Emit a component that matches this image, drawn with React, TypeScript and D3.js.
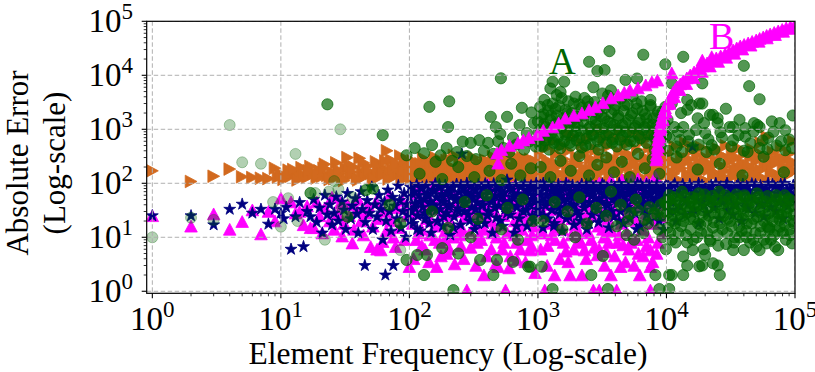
import React from "react";
import * as d3 from "d3";

// ---------- DATA ----------
const xTickValues = [1, 10, 100, 1000, 10000, 100000];
const yTickValues = [1, 10, 100, 1000, 10000, 100000];
const tickExponents = ["0", "1", "2", "3", "4", "5"];
const xAxisLabel = "Element Frequency (Log-scale)";
const yAxisLabelLines = ["Absolute Error", "(Log-scale)"];
const annotationA = "A";
const annotationB = "B";

// orange right-pointing triangles
const orangeLow: [number, number][] = [
  [1,170],[2,108],[3,135],[4,183],[5,132],[6,128],[7,124],[8,122],[9,190],[9.5,130],
  [10,148],[11,128],[11.5,175],[12,135],[13,160],[14,125],[14.5,195],[15,140],[16,128],[17,205],[18,150],[19,125],[20,170],[21,135],[22,225],[23,140],[25,160],[26,122],[27,240],[29,150],[30,130],[32,185],[33,300],[35,140],[37,200],[39,125],[41,290],[43,160],[45,135],[47,210],[50,150],[52,125],[55,250],[58,170],[60,135],[63,190],[67,400],[70,150],[72,270],[75,130],[78,200],[82,160],[85,320],[88,140],[92,220],[96,130],
  [10.5,118],[12.5,180],[13.5,115],[16.5,170],[19.5,145],[21.5,190],[24,118],[28,175],[31,112],[34,215],[36,160],[40,115],[44,240],[48,170],[53,118],[57,200],[62,150],[65,260],[69,120],[74,180],[80,230],[87,115],[90,175],[94,270],[99,150]
];
const orangeMid: [number, number][] = [
  [100,180],[103,125],[106,260],[110,150],[113,115],[117,210],[120,170],[124,130],[128,290],[132,190],[136,118],[140,240],[145,155],[150,205],[155,125],[160,300],[165,170],[170,140],[176,230],[182,115],[188,190],[195,265],[200,145],[207,210],[214,125],[222,330],[230,175],[238,140],[246,250],[255,120],[264,195],[273,280],[283,160],[293,225],[304,130],[315,300],[326,185],[338,145],[350,240],[362,115],[375,205],[389,270],[403,160],[417,130],[432,230],[448,310],[464,175],[480,135],[497,255],[515,195],[533,120],[552,285],[572,165],[592,215],[613,140],[635,330],[658,190],[681,250],[706,130],[731,205],[757,300],[784,170],[812,235],[841,140],[871,280],[902,190],[934,120],[967,250],
  [101,140],[108,200],[115,125],[122,230],[130,160],[138,110],[147,185],[157,260],[168,120],[180,210],[192,150],[203,280],[218,165],[233,115],[250,195],[268,140],[287,235],[308,170],[330,120],[355,210],[380,150],[408,255],[440,120],[470,205],[505,145],[540,230],[580,115],[620,180],[665,135],[715,270],[765,150],[820,200],[880,115],[945,165]
];
const orangeHigh: [number, number][] = [
  [1000,160],[1040,320],[1080,210],[1120,130],[1150,700],[1160,450],[1200,260],[1250,180],[1300,600],[1340,115],[1390,350],[1440,220],[1490,150],[1550,500],[1600,280],[1660,130],[1700,900],[1720,400],[1780,200],[1850,750],[1910,160],[1980,310],[2050,240],[2130,120],[2200,550],[2280,190],[2360,380],[2400,650],[2450,145],[2540,280],[2630,850],[2720,210],[2820,420],[2920,125],[3000,1000],[3030,330],[3140,170],[3250,650],[3370,240],[3490,480],[3600,800],[3610,135],[3740,300],[3880,200],[4020,700],[4160,160],[4310,380],[4400,950],[4470,250],[4630,120],[4800,520],[4970,210],[5000,600],[5150,340],[5330,150],[5520,900],[5720,260],[5930,420],[6140,185],[6200,820],[6360,130],[6590,600],[6830,300],[7000,700],[7070,220],[7330,460],[7590,160],[7860,350],[8000,950],[8140,250],[8430,680],[8740,190],[9050,420],[9200,650],[9380,140],[9710,300],
  [1020,125],[1100,175],[1180,240],[1270,145],[1360,195],[1460,110],[1570,250],[1690,170],[1810,125],[1940,210],[2090,150],[2240,340],[2400,120],[2580,180],[2770,260],[2970,150],[3190,110],[3420,200],[3670,140],[3940,260],[4230,180],[4540,130],[4870,300],[5230,160],[5610,220],[6020,115],[6460,190],[6930,270],[7440,140],[7990,200],[8580,120],[9210,240],[9890,160],
  [10000,180],[10400,350],[10800,130],[11200,260],[11600,480],[12000,200],[12500,115],[13000,320],[13500,230],[14000,560],[14500,150],[15000,280],[15600,400],[16200,190],[16800,120],[17400,330],[18000,250],[18700,460],[19400,170],[20100,300],[20900,105],[21700,220],[22500,380],[23300,160],[24200,270],[25100,430],[26000,140],[27000,330],[28000,200],[29000,500],[30100,120],[31200,260],[32400,380],[33600,175],[34900,300],[36200,450],[37500,140],[38900,240],[40300,350],[41800,200],[43400,110],[45000,300],[46700,420],[48400,180],[50200,260],[52100,130],[54000,560],[56000,330],[58100,200],[60300,730],[62500,280],[64800,150],[67200,380],[69700,230],[72300,120],[75000,310],[77800,450],[80700,190],[83700,270],[86800,140],[90000,350],[93400,220],[96800,600],[99000,170],
  [10600,240],[11400,150],[12200,110],[13100,190],[14100,270],[15100,130],[16200,210],[17400,160],[18700,120],[20000,250],[21500,180],[23100,140],[24800,230],[26600,115],[28600,170],[30700,280],[33000,135],[35400,200],[38000,160],[40800,120],[43800,210],[47000,150],[50500,320],[54200,175],[58200,120],[62500,220],[67100,160],[72000,260],[77300,130],[83000,200],[89100,150],[95700,250]
];

// magenta upward triangles, scattered
const magentaLow: [number, number][] = [
  [1,25],[2,16],[3,27],[4,14],[5,19.5],[6,32],[7,11.5],[8,30],[9,20],[10,53],[12,45],[13,28],[14,30],[15,17],[16,38],[17,15],
  [18,15],[19,45],[20,25],[21,12],[22,35],[24,20],[25,55],[26,14],[28,28],[29,43],[30,10.5],[31,18],[33,40],[34,25],[36,7.8],[37,14],[39,32],[40,50],[42,20],[44,11],[46,28],[48,38],[50,6.7],[52,16],[55,45],[56,6],[58,22],[60,5.8],[62,8.3],[64,30],[66,13],[70,60],[72,20],[75,10],[78,6.7],[80,35],[84,15],[88,48],[92,9],[96,25]
];
const magentaMid: [number, number][] = [
  [100,2.85],[103,40],[106,18],[110,65],[113,9],[117,28],[120,80],[124,14],[128,45],[132,6],[136,22],[140,55],[145,11],[150,33],[155,90],[160,16],[163,2.85],[166,48],[172,8],[178,25],[184,62],[190,13],[195,5],[200,38],[207,20],[214,75],[220,10],[228,30],[236,52],[244,15],[252,7],[260,42],[270,24],[280,1.05],[285,85],[295,12],[305,35],[315,58],[325,18],[336,8],[347,46],[358,26],[370,70],[380,2],[382,14],[395,36],[408,95],[420,20],[434,6],[448,55],[462,30],[477,10],[490,2.85],[493,78],[509,17],[525,42],[542,25],[560,1.05],[560,60],[578,12],[597,2.7],[617,34],[637,85],[658,20],[680,8],[690,3.8],[702,50],[725,28],[749,14],[773,65],[798,38],[824,9],[851,22],[870,5.8],[879,90],[908,45],[938,16],[969,30],
  [105,30],[118,12],[135,38],[148,20],[170,55],[188,9],[210,28],[232,45],[258,14],[290,60],[318,25],[350,11],[385,48],[420,32],[460,16],[500,52],[545,8],[590,30],[640,45],[700,17],[760,25],[830,48],[900,11],[960,35],
  [108,4],[125,7],[142,3.5],[158,9],[176,4.5],[205,6],[225,3.2],[248,11],[265,4],[300,6.5],[330,3],[362,9],[400,4.5],[440,12],[470,3.2],[530,6],[610,4.5],[660,11],[730,6],[800,3.5],[890,7],[950,2.2]
];
const magentaHigh: [number, number][] = [
  [1000,55],[1030,12],[1060,25],[1100,12],[1130,1.05],[1150,40],[1190,7],[1230,70],[1270,18],[1310,32],[1350,2],[1360,9],[1400,48],[1450,22],[1500,88],[1550,14],[1600,35],[1650,5.5],[1700,62],[1700,95],[1760,26],[1780,2],[1820,11],[1880,45],[1950,17],[2020,80],[2090,30],[2130,87],[2160,8],[2200,2],[2240,55],[2300,5.8],[2320,20],[2400,38],[2480,12],[2570,70],[2580,66],[2650,92],[2660,25],[2700,1.05],[2750,6.5],[2850,48],[2900,4.7],[2950,16],[3000,1.05],[3000,100],[3050,32],[3160,95],[3200,66],[3270,10],[3390,60],[3400,5.4],[3500,22],[3620,40],[3700,2],[3700,115],[3750,13],[3880,75],[4010,28],[4100,1.05],[4150,8],[4300,50],[4400,2.85],[4400,75],[4450,18],[4500,115],[4600,7.2],[4610,35],[4770,65],[4940,12],[5110,26],[5290,44],[5400,115],[5470,9],[5660,80],[5800,66],[5860,20],[6000,120],[6060,5],[6200,2],[6250,87],[6270,38],[6400,49],[6490,14],[6720,58],[6950,28],[7000,105],[7200,10],[7500,2.85],[7500,5.8],[7500,1.05],[7700,45],[8000,18],[8200,133],[8300,30],[8600,8],[8900,65],[9200,24],[9500,12],[9800,40],
  [1080,30],[1250,45],[1420,15],[1600,60],[1850,22],[2100,9],[2450,28],[2800,50],[3200,14],[3600,30],[4100,55],[4700,22],[5300,8],[5900,36],[6600,18],[7300,60],[8100,40],[8800,24],[9400,55],
  [1050,6],[1180,3],[1280,11],[1480,4],[1580,8],[1720,3.5],[1900,6],[2050,13],[2380,4],[2600,9],[3000,6],[3300,3],[3550,8],[3950,4.5],[4300,11],[4800,3.5],[5100,6],[5600,3],[5900,9],[6600,4.5],[7000,7],[7800,3.5],[8400,5]
];

// magenta triangles along the diagonal and the "B" arc
const magentaDiag: [number, number][] = [
  [480,360],[490,235],[520,420],[600,500],[700,560],[770,630],[850,700],[990,800],[1100,950],[1300,1100],[1450,1300],[1630,1600],[1900,1800],[2200,2000],[2500,2300],[2800,2600],[3200,3100],[3700,3800],[4200,4300],[4700,4800],[5200,5300],[6000,5800],[6900,6600],[7700,7500],[8500,8100],[11000,11000],[19000,19000],[22500,22000]
];
const magentaArc: [number, number][] = [
  [8320,270],[8390,334],[8470,414],[8540,512],[8620,634],[8730,784],[8860,970],[8970,1150],[9100,1365],[9260,1620],[9430,1920],[9600,2180],[9770,2480],[10100,2940],[10400,3340],[10700,3800],[11000,4320],[11300,4910],[11700,5460],[12100,6070],[12800,6900],[13500,7840],[14400,8910],[15300,10100],[16400,11500],[17700,13100],[19100,14900],[20700,16900],[22500,18800],[24400,20900],[26400,22800],[28600,24800],[30800,27000],[33000,29400],[35200,32000],[37500,34900],[40200,37200],[43200,39600],[46400,42300],[49900,45000],[53100,48000],[56600,51200],[60200,54600],[64100,58200],[68900,62000],[74000,66100],[79500,70500],[85400,75200],[91800,78500],[98600,81000],
  [8450,300],[8600,480],[8800,720],[9050,1050],[9400,1500],[9900,2100],[10600,3000],[11500,4000],[12700,5400],[14300,7000],[16300,9000],[18900,11800],[21800,14800],[25300,18000],[29200,21500],[33800,25500],[39000,30500],[45200,36000],[52300,42500],[60500,49000],[70000,56500],[81000,65000],[93500,73500]
];

// navy stars
const navyLow: [number, number][] = [
  [1,25],[2,25],[3,17],[4,33],[5,41],[6,28],[7,33],[8,17.5],[9,33],[10,28],[10.5,22],[11,36],[12,6],[13,24],[14,44],[15,6.7],
  [16,30],[17,24],[18,50],[19,19],[20,35],[21,12],[22,60],[23,26],[24,40],[25,17],[26,28],[27,56],[28,20],[30,45],[31,32],[32,14],[33,65],[35,22],[36,38],[38,52],[39,27],[40,12],[42,70],[43,33],[45,3],[45.5,19],[47,48],[49,28],[51,85],[52,14],[54,40],[56,24],[58,60],[60,33],[62,9],[64,45],[65,2],[66,20],[68,75],[70,30],[72,13],[74,55],[75,3],[77,38],[80,22],[82,90],[84,48],[86,15],[89,30],[91,65],[94,10],[96,40],[98,26]
];
const navyMid: [number, number][] = [
  [100,55],[102,85],[104,30],[107,18],[109,70],[111,42],[114,95],[116,25],[119,60],[121,13],[124,80],[127,36],[130,50],[133,22],[136,90],[139,65],[142,30],[145,45],[148,12],[152,75],[155,38],[159,98],[162,55],[166,20],[170,85],[174,33],[178,62],[182,16],[186,45],[190,92],[195,28],[199,70],[204,40],[208,11],[213,58],[218,85],[223,24],[228,48],[233,96],[238,34],[244,68],[250,17],[256,350],[256,52],[262,80],[268,30],[274,42],[280,100],[287,62],[294,20],[300,88],[307,36],[314,55],[321,14],[329,75],[336,44],[344,95],[352,26],[360,63],[369,38],[377,82],[386,18],[395,52],[404,90],[413,30],[423,70],[433,45],[443,12],[453,98],[464,58],[475,23],[486,78],[497,38],[508,88],[520,55],[532,16],[545,68],[557,33],[575,115],[584,92],[597,46],[611,26],[626,75],[640,55],[655,12],[670,95],[686,36],[702,64],[718,22],[735,85],[752,48],[770,30],[788,98],[806,60],[825,16],[844,76],[864,40],[884,90],[905,25],[926,60],[948,45],[970,100],[993,33],
  [101,20],[105,65],[110,35],[115,14],[120,45],[126,85],[131,28],[137,60],[143,18],[150,40],[156,70],[163,32],[171,95],[178,48],[186,24],[194,62],[203,36],[212,80],[221,15],[231,52],[241,30],[252,92],[263,44],[275,66],[287,26],[300,55],[313,78],[327,33],[341,18],[356,60],[372,40],[389,98],[406,25],[424,72],[443,50],[463,35],[483,88],[505,20],[527,62],[550,45],[575,28],[600,80],[627,38],[655,60],[684,16],[714,44],[746,90],[779,55],[813,32],[849,70],[887,50],[926,20],[967,80]
];
const navyHigh: [number, number][] = [
  [1000,70],[1020,28],[1045,92],[1070,48],[1095,15],[1100,100],[1120,80],[1145,38],[1170,60],[1200,22],[1225,98],[1255,52],[1285,32],[1315,85],[1345,18],[1375,66],[1400,75],[1410,42],[1440,95],[1475,27],[1510,58],[1545,13],[1580,80],[1620,36],[1655,100],[1695,50],[1735,24],[1775,72],[1820,40],[1860,92],[1900,55],[1905,17],[1950,62],[1995,30],[2040,85],[2090,48],[2140,20],[2190,96],[2240,56],[2290,35],[2350,78],[2400,14],[2460,64],[2500,88],[2520,44],[2575,98],[2640,26],[2700,70],[2760,52],[2830,88],[2890,33],[2960,19],[3030,75],[3100,45],[3170,97],[3250,60],[3300,65],[3320,28],[3400,82],[3480,38],[3560,15],[3650,68],[3730,92],[3820,50],[3910,24],[4000,85],[4100,42],[4190,62],[4290,99],[4300,45],[4390,30],[4500,74],[4600,18],[4710,55],[4820,90],[4940,36],[5050,66],[5170,22],[5290,94],[5300,70],[5420,48],[5550,78],[5680,28],[5810,58],[5950,100],[6090,40],[6230,16],[6300,95],[6380,84],[6530,52],[6680,32],[6840,70],[7000,96],[7170,44],[7340,20],[7510,62],[7600,80],[7690,88],[7870,36],[8060,72],[8250,50],[8440,98],[8640,26],[8700,45],[8850,60],[9060,82],[9270,40],[9490,14],[9720,66],[9950,92],
  [1010,42],[1060,62],[1110,25],[1160,88],[1210,45],[1270,70],[1330,16],[1390,55],[1450,35],[1520,75],[1590,48],[1660,22],[1740,90],[1820,60],[1900,38],[1990,82],[2080,26],[2180,66],[2280,44],[2380,95],[2490,18],[2610,58],[2730,36],[2850,76],[2990,50],[3120,24],[3270,90],[3420,42],[3570,68],[3740,30],[3910,56],[4090,80],[4280,20],[4470,64],[4680,45],[4890,96],[5120,33],[5350,72],[5600,52],[5860,14],[6130,86],[6410,42],[6710,62],[7020,26],[7340,92],[7680,54],[8030,36],[8400,76],[8790,20],[9190,58],[9620,84],
  [10000,55],[10300,88],[10600,30],[10900,70],[11200,45],[11600,98],[11900,20],[12300,62],[12700,38],[13100,85],[13500,52],[13900,26],[14300,75],[14800,42],[15200,95],[15700,60],[16000,475],[16200,33],[16700,80],[17200,48],[17800,18],[18300,66],[18900,92],[19500,38],[20100,58],[20700,28],[21400,85],[22000,50],[22700,72],[23400,35],[24200,99],[24900,55],[25700,22],[26500,78],[27300,44],[28200,64],[29100,90],[30000,32],[30900,52],[31900,82],[32900,26],[33900,68],[35000,40],[36100,96],[37200,58],[38400,20],[39600,76],[40800,46],[42100,88],[43400,34],[44800,62],[46200,98],[47600,50],[49100,28],[50700,72],[52300,42],[53900,90],[55600,60],[57300,24],[59100,80],[61000,48],[62900,66],[64900,36],[66900,95],[69000,54],[71200,30],[73400,84],[75700,44],[78100,70],[80500,22],[83100,100],[85700,58],[88300,38],[91100,78],[94000,50],[96900,88],[99000,64],
  [10100,75],[10700,45],[11300,90],[12000,32],[12700,68],[13400,95],[14200,50],[15000,80],[15900,28],[16800,64],[17800,100],[18800,44],[19900,76],[21100,60],[22300,92],[23600,40],[25000,68],[26500,86],[28000,48],[29600,100],[31400,70],[33200,40],[35100,88],[37200,62],[39300,96],[41600,36],[44000,72],[46600,56],[49300,94],[52200,80],[55200,40],[58400,68],[61800,100],[65400,52],[69200,86],[73200,64],[77500,96],[82000,44],[86700,74],[91800,58],[97100,92]
];

// faint green circles (small frequencies)
const greenFaint: [number, number][] = [
  [1,10],[2,23],[3,21],[4,1200],[5,245],[7,230],[8.7,45],[10,15.7],[11.4,53],[13,350],[13.5,20],[18.5,66],[22,9],[23.6,70],[26,110],[28,78],[29,1000],[30,35],[36,55],[85,5.8]
];

// green circles ("A")
const greenUpper: [number, number][] = [
  [17,66],[23,2900],[33,24],[46,75],[52,80],[62,780],[70,40],[85,18],
  [95,330],[110,450],[130,360],[143,2600],[150,510],[160,250],[175,330],[195,450],[200,1100],[204,3300],[215,260],[235,380],[260,590],[280,320],[300,560],[330,280],[350,630],[380,400],[410,560],[430,1700],[450,350],[470,1100],[490,600],[510,820],[515,8800],[540,450],[575,1700],[600,380],[640,700],[680,520],[720,1200],[750,2500],[780,420],[820,850],[860,600],[890,2050],[930,1300],[960,480],
  [1000,1400],[1020,650],[1040,2600],[1060,900],[1080,480],[1100,1900],[1120,3500],[1150,1100],[1170,700],[1200,2200],[1220,420],[1250,5700],[1250,1500],[1280,850],[1300,7600],[1300,3000],[1330,560],[1360,1250],[1400,4300],[1400,1800],[1430,720],[1460,2700],[1490,440],[1500,4900],[1520,1050],[1560,1600],[1600,7600],[1600,600],[1640,2300],[1680,880],[1720,3300],[1760,1350],[1800,500],[1840,2000],[1880,760],[1920,1150],[1960,4000],[2000,620],[2050,1700],[2100,2900],[2150,950],[2200,460],[2250,1400],[2300,3800],[2350,2100],[2400,680],[2450,1000],[2500,17800],[2500,2600],[2560,530],[2620,1550],[2700,6000],[2700,800],[2760,3200],[2830,1200],[2900,12000],[2900,2000],[2960,420],[3030,700],[3100,1750],[3170,4600],[3250,1050],[3300,12500],[3330,2500],[3400,560],[3480,1400],[3560,860],[3600,28000],[3650,3300],[3700,5300],[3740,2000],[3830,650],[3920,1200],[4020,2800],[4120,480],[4220,1600],[4320,950],[4430,3700],[4540,740],[4650,2200],[4800,8200],[4800,1300],[4900,520],[5000,2900],[5150,880],[5300,1800],[5450,4100],[5600,600],[5750,1150],[5900,8700],[5900,2400],[6050,780],[6200,1500],[6400,3300],[6600,24000],[6600,980],[6800,1900],[7000,560],[7200,1250],[7500,3500],[7500,2600],[7700,800],[7900,1600],[8100,420],[8300,1100],[8600,2100],[8900,700],[9200,1400],[9500,900],[9800,16000],[9800,2600],
  [1010,900],[1040,500],[1070,1700],[1110,1250],[1140,620],[1190,2800],[1230,980],[1270,1800],[1320,650],[1370,2400],[1420,1100],[1470,520],[1530,3800],[1580,1300],[1640,800],[1700,2000],[1770,560],[1830,1400],[1900,3000],[1970,900],[2040,1200],[2110,700],[2190,2500],[2270,1800],[2350,500],[2440,3300],[2530,1100],[2620,800],[2720,2200],[2820,1500],[2930,600],[3040,1000],[3150,2700],[3270,1600],[3390,800],[3510,4200],[3640,1300],[3780,560],[3920,2300],[4060,1000],[4210,1800],[4370,640],[4530,1200],[4700,2800],[4870,900],[5050,1500],[5240,600],[5430,2000],[5630,1050],[5840,3000],[6050,1300],[6280,680],[6510,2200],[6750,1100],[7000,1600],[7260,800],[7530,2800],[7810,1200],[8100,700],[8400,1800],[8700,1000],[9000,500],[9300,2100],[9650,1250],[9950,750],
  [10200,1500],[10500,700],[11000,7100],[11000,3000],[11500,1100],[12000,480],[12800,630],[13000,2000],[13500,22000],[13500,1100],[14500,2300],[14500,3500],[15000,800],[15600,2800],[16000,450],[17000,970],[17500,1600],[18000,3000],[19000,7100],[19000,3000],[20000,850],[20500,380],[21800,1850],[22500,510],[23000,1850],[25000,1300],[25000,1600],[27000,700],[29000,2400],[31000,1100],[33000,630],[33000,1100],[37000,1500],[40000,15000],[40000,400],[41000,730],[41000,1050],[44000,6300],[45000,550],[48000,1300],[51000,1200],[53000,3600],[53000,1100],[53000,450],[62000,700],[68000,900],[72000,500],[76000,1300],[84000,960],[84000,410],[90000,650],[96000,1800],
  [10300,400],[12300,900],[13200,380],[14800,600],[17800,520],[19600,1300],[21200,650],[23600,420],[26300,880],[32000,480],[36300,780],[42800,380],[47500,900],[56000,620],[61000,430],[66000,1400],[78000,600],[95000,450]
];
const greenBand: [number, number][] = [
  [120,150],[180,120],[240,200],[320,130],[420,170],[520,115],[620,230],[730,140],[880,190],
  [1050,200],[1250,130],[1500,260],[1800,170],[2100,320],[2500,140],[2900,220],[3400,300],[3900,160],[4500,250],[5200,130],[6000,350],[6800,190],[7800,280],[8800,150],
  [12000,300],[17500,180],[26000,230],[39000,140],[57000,310],[82000,160]
];
const greenLower: [number, number][] = [
  [10000,40],[10200,15],[10500,60],[10800,25],[11000,9],[11300,35],[11700,18],[12000,50],[12400,12],[12800,28],[13200,70],[13500,4.4],[13600,20],[14000,42],[14500,8],[14900,30],[15400,14],[15800,55],[16000,5.8],[16300,22],[16800,38],[17300,10],[17800,65],[18300,17],[18900,32],[19500,6],[20000,4.7],[20100,48],[20700,12],[21400,25],[22000,8.5],[22700,58],[23400,19],[24200,36],[24900,11],[25700,70],[26500,27],[27300,14],[28200,45],[29100,7.5],[30000,22],[31000,52],[32000,16],[33000,5.8],[33000,34],[34000,10],[35000,62],[36100,24],[37000,10],[37200,40],[38400,13],[39600,28],[40000,5.8],[40800,55],[42000,10],[42100,18],[43400,36],[44800,8],[46200,48],[47600,22],[49100,12],[50000,6.7],[50700,65],[52300,30],[53000,5.8],[53900,16],[55600,44],[57300,9],[59100,26],[60000,7.7],[61000,58],[62900,14],[63000,15],[64900,38],[66900,20],[69000,11],[70000,6.7],[71200,50],[73400,28],[74000,5.8],[76000,15.7],[76000,21],[78100,42],[80500,12],[83100,60],[85000,9],[85700,24],[88300,35],[91100,14],[94000,48],[95000,7.7],[96900,20],[98000,18],
  [10100,28],[10400,48],[10700,12],[11100,20],[11500,55],[11800,8],[12200,32],[12600,45],[13000,16],[13300,25],[13800,58],[14200,11],[14700,38],[15200,22],[15600,46],[16100,9],[16600,30],[17100,52],[17600,18],[18100,40],[18600,12],[19200,26],[19800,62],[20400,20],[21000,36],[21700,9],[22300,46],[23000,15],[23700,28],[24500,50],[25300,7],[26000,18],[26900,40],[27800,25],[28700,60],[29600,12],[30500,34],[31500,20],[32500,46],[33500,8],[34600,28],[35700,52],[36800,16],[38000,38],[39200,22],[40500,60],[41800,13],[43100,30],[44500,48],[45900,18],[47400,9],[48900,40],[50500,24],[52100,55],[53800,12],[55500,34],[57300,20],[59100,46],[61000,16],[62900,28],[64900,9],[67000,42],[69100,24],[71300,60],[73600,13],[76000,36],[78400,26],[80900,48],[83500,17],[86200,30],[89000,52],[91800,11],[94800,38],[97800,26],
  [10500,2],[10500,1.1],[11000,2],[13500,2],[14500,3],[18000,2.9],[19000,3],[23000,3.3],[25000,3],[26000,2],
  [1070,2.85],[1100,20],[1300,1.1],[1350,45],[1550,14],[1700,30],[1950,10],[2100,55],[2400,18],[2600,2],[2850,35],[3200,4.5],[3400,25],[3500,1.1],[3700,70],[4100,16],[4400,40],[4900,11],[5000,20],[5200,28],[5600,9],[5800,50],[6000,32],[6600,12],[6700,22],[7200,18],[7400,36],[8000,28],[8200,2],[8500,26],[8700,14],[8800,1.1],[9000,40],[9300,10],[9600,25],[9700,45],[9900,6],
  [95,3.8],[115,4.7],[130,2],[137,4.7],[150,30],[180,6.3],[200,15],[220,1.05],[240,5],[270,45],[300,10],[340,22],[355,3.8],[400,60],[450,2],[480,3.8],[520,14],[580,35],[640,3.5],[700,9],[760,50],[840,2.85],[870,2.85],[920,20]
];

const orangeTri = [...orangeLow, ...orangeMid, ...orangeHigh];
const magentaTri = [...magentaLow, ...magentaMid, ...magentaHigh];
const navyStar = [...navyLow, ...navyMid, ...navyHigh];
const greenCirc = [...greenUpper, ...greenBand, ...greenLower];

// ---------- CHART ----------
const W = 815;
const H = 372;
const M = { left: 146.7, right: 795, top: 21.3, bottom: 293.3 };
const FONT = "'Liberation Serif', 'Times New Roman', serif";

export default function App() {
  const x = d3.scaleLog().domain([0.904, 1e5]).range([M.left, M.right]);
  const y = d3.scaleLog().domain([0.917, 1e5]).range([M.bottom, M.top]);

  const triUp = "M0,-6L6.3,5.8L-6.3,5.8Z";
  const triRight = "M6,0L-5.8,-6.3L-5.8,6.3Z";
  const starPath = d3.symbol(d3.symbolStar, 44)() as string;

  const xMinor = x.ticks().filter((t) => !xTickValues.includes(t) && x(t) > M.left + 0.5 && x(t) < M.right - 0.5);
  const yMinor = y.ticks().filter((t) => !yTickValues.includes(t) && y(t) < M.bottom - 0.5 && y(t) > M.top + 0.5);

  const pts = (data: [number, number][], path: string, color: string, key: string) =>
    data.map((d, i) => (
      <path key={key + i} d={path} transform={`translate(${x(d[0])},${y(d[1])})`} fill={color} stroke={color} strokeWidth={0.8} />
    ));

  return (
    <svg width={W} height={H} style={{ position: "absolute", left: 0, top: 0, display: "block", background: "#fff" }}>
      <defs>
        <clipPath id="plotclip">
          <rect x={M.left} y={M.top} width={M.right - M.left} height={M.bottom - M.top} />
        </clipPath>
      </defs>
      <rect x={0} y={0} width={W} height={H} fill="#fff" />
      <g clipPath="url(#plotclip)">
        {pts(orangeTri, triRight, "#D2691E", "o")}
        {pts(magentaTri, triUp, "#FF00FF", "m")}
        {pts(navyStar, starPath, "#000080", "n")}
        {greenFaint.map((d, i) => (
          <circle key={"gf" + i} cx={x(d[0])} cy={y(d[1])} r={5.5} fill="#006400" fillOpacity={0.3} stroke="#006400" strokeOpacity={0.3} strokeWidth={1} />
        ))}
        {greenCirc.map((d, i) => (
          <circle key={"g" + i} cx={x(d[0])} cy={y(d[1])} r={5.6} fill="#006400" fillOpacity={0.67} stroke="#006400" strokeOpacity={0.67} strokeWidth={1} />
        ))}
        {pts(magentaDiag, triUp, "#FF00FF", "md")}
        {pts(magentaArc, triUp, "#FF00FF", "ma")}
        {xTickValues.map((t) => (
          <line key={"gx" + t} x1={x(t)} x2={x(t)} y1={M.top} y2={M.bottom} stroke="#b0b0b0" strokeWidth={1} strokeDasharray="4.5,2.5" />
        ))}
        {yTickValues.map((t) => (
          <line key={"gy" + t} x1={M.left} x2={M.right} y1={y(t)} y2={y(t)} stroke="#b0b0b0" strokeWidth={1} strokeDasharray="4.5,2.5" />
        ))}
      </g>
      <text x={549} y={74} fill="#006400" fontFamily={FONT} fontSize={37}>{annotationA}</text>
      <text x={709} y={49} fill="#FF00FF" fontFamily={FONT} fontSize={38}>{annotationB}</text>
      <rect x={M.left} y={M.top} width={M.right - M.left} height={M.bottom - M.top} fill="none" stroke="#000" strokeWidth={1.2} />
      {xTickValues.map((t) => (
        <line key={"xt" + t} x1={x(t)} x2={x(t)} y1={M.bottom} y2={M.bottom + 5} stroke="#000" strokeWidth={1.1} />
      ))}
      {xMinor.map((t) => (
        <line key={"xm" + t} x1={x(t)} x2={x(t)} y1={M.bottom} y2={M.bottom + 3} stroke="#000" strokeWidth={0.8} />
      ))}
      {yTickValues.map((t) => (
        <line key={"yt" + t} x1={M.left - 5} x2={M.left} y1={y(t)} y2={y(t)} stroke="#000" strokeWidth={1.1} />
      ))}
      {yMinor.map((t) => (
        <line key={"ym" + t} x1={M.left - 3} x2={M.left} y1={y(t)} y2={y(t)} stroke="#000" strokeWidth={0.8} />
      ))}
      {xTickValues.map((t, i) => (
        <text key={"xl" + t} x={x(t)} y={330} textAnchor="middle" fontFamily={FONT} fontSize={33} fill="#000">
          10<tspan dy={-13} fontSize={23}>{tickExponents[i]}</tspan>
        </text>
      ))}
      {yTickValues.map((t, i) => (
        <text key={"yl" + t} x={133} y={y(t) + 11} textAnchor="end" fontFamily={FONT} fontSize={33} fill="#000">
          10<tspan dy={-13} fontSize={23}>{tickExponents[i]}</tspan>
        </text>
      ))}
      <text x={448} y={364} textAnchor="middle" fontFamily={FONT} fontSize={31.5} fill="#000">{xAxisLabel}</text>
      <text transform="rotate(-90)" textAnchor="middle" fontFamily={FONT} fontSize={31} fill="#000">
        <tspan x={-163} y={28}>{yAxisLabelLines[0]}</tspan>
        <tspan x={-163} y={65}>{yAxisLabelLines[1]}</tspan>
      </text>
    </svg>
  );
}
